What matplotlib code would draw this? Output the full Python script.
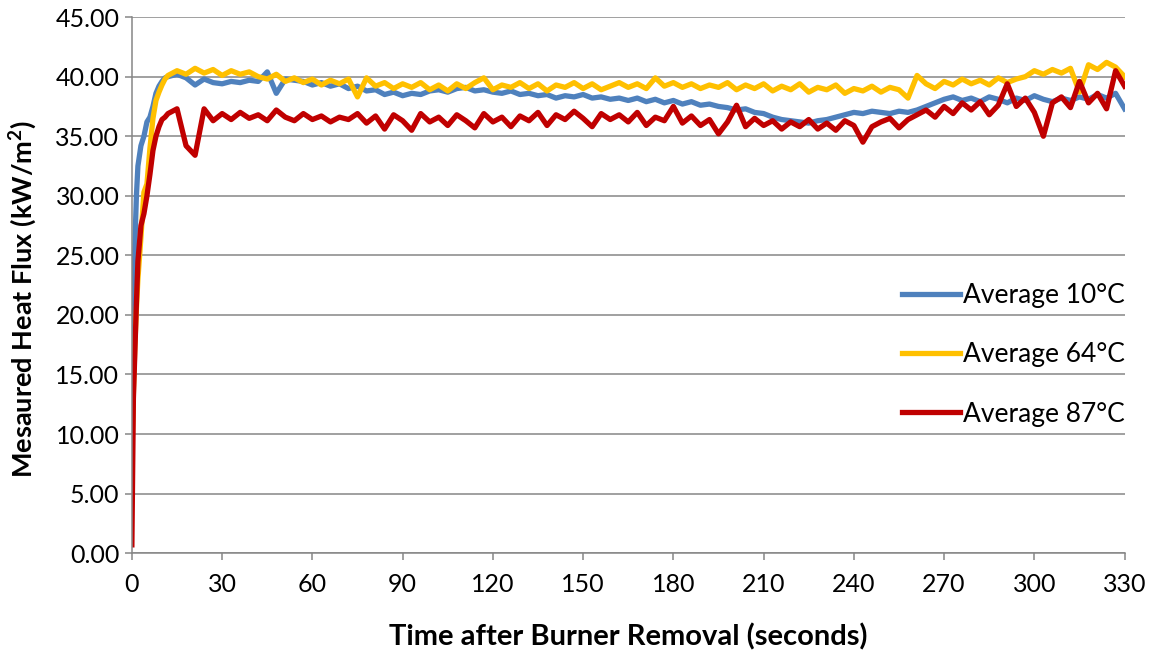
import numpy as np
import matplotlib.pyplot as plt
from matplotlib.ticker import FormatStrFormatter

# Tempo (s): amostragem fina no início, depois a cada 3 s
tempo = [0, 0.5, 1, 1.5, 2, 3, 4, 5, 6, 7, 8, 9, 10, 11] + list(range(12, 331, 3))

# Fluxo de calor medido (kW/m2)
media_10 = [14.0, 20.5, 26.0, 30.0, 32.5, 34.2, 35.0, 36.2, 36.6, 37.5, 38.6, 39.2, 39.6, 39.9,
            40.0, 40.2, 39.9, 39.3, 39.8, 39.5, 39.4, 39.6, 39.5, 39.7,
            39.6, 40.4, 38.6, 39.8, 39.7, 39.6, 39.3, 39.5, 39.2, 39.4,
            39.0, 39.2, 38.8, 38.9, 38.5, 38.7, 38.4, 38.6, 38.5, 38.8,
            38.9, 38.7, 39.0, 39.1, 38.8, 38.9, 38.7, 38.6, 38.8, 38.5,
            38.6, 38.4, 38.5, 38.2, 38.4, 38.3, 38.5, 38.2, 38.3, 38.1,
            38.2, 38.0, 38.2, 37.9, 38.1, 37.8, 38.0, 37.7, 37.9, 37.6,
            37.7, 37.5, 37.4, 37.2, 37.3, 37.0, 36.9, 36.6, 36.4, 36.3,
            36.2, 36.1, 36.3, 36.4, 36.6, 36.8, 37.0, 36.9, 37.1, 37.0,
            36.9, 37.1, 37.0, 37.2, 37.5, 37.8, 38.1, 38.3, 38.0, 38.2,
            37.9, 38.3, 38.1, 37.8, 38.2, 38.0, 38.4, 38.1, 37.9, 38.2,
            38.0, 38.3, 38.1, 38.5, 38.2, 38.6, 37.3]

media_64 = [8.0, 13.5, 17.5, 20.5, 23.0, 26.5, 30.3, 31.0, 34.0, 36.5, 38.0, 38.7, 39.3, 39.8,
            40.1, 40.5, 40.2, 40.7, 40.3, 40.6, 40.1, 40.5, 40.2, 40.4,
            40.0, 39.8, 40.2, 39.6, 39.9, 39.5, 39.8, 39.3, 39.7, 39.4,
            39.8, 38.3, 39.9, 39.2, 39.5, 39.0, 39.4, 39.1, 39.5, 38.9,
            39.3, 38.8, 39.4, 39.0, 39.5, 39.9, 38.9, 39.3, 39.1, 39.5,
            39.0, 39.4, 38.8, 39.3, 39.1, 39.5, 39.0, 39.4, 38.9, 39.2,
            39.5, 39.1, 39.4, 39.0, 39.9, 39.2, 39.5, 39.1, 39.4, 39.0,
            39.3, 39.1, 39.5, 38.9, 39.3, 39.0, 39.4, 38.8, 39.2, 38.9,
            39.4, 38.7, 39.1, 38.9, 39.3, 38.6, 39.0, 38.8, 39.2, 38.7,
            39.1, 38.9, 38.2, 40.1, 39.4, 39.0, 39.6, 39.3, 39.8, 39.4,
            39.7, 39.3, 39.9, 39.5, 39.8, 40.0, 40.5, 40.2, 40.6, 40.3,
            40.7, 38.7, 41.0, 40.6, 41.2, 40.8, 40.0]

media_87 = [0.7, 13.0, 17.0, 21.0, 24.5, 27.5, 28.5, 30.0, 31.8, 33.8, 35.0, 35.8, 36.4, 36.6,
            36.9, 37.3, 34.2, 33.4, 37.3, 36.3, 36.9, 36.4, 37.0, 36.5,
            36.8, 36.3, 37.2, 36.6, 36.3, 36.9, 36.4, 36.7, 36.2, 36.6,
            36.4, 36.9, 36.1, 36.7, 35.6, 36.8, 36.3, 35.5, 36.9, 36.2,
            36.6, 35.9, 36.8, 36.3, 35.7, 36.9, 36.2, 36.6, 35.8, 36.7,
            36.3, 37.0, 35.9, 36.8, 36.4, 37.1, 36.5, 35.8, 36.9, 36.4,
            36.8, 36.2, 37.0, 35.9, 36.6, 36.3, 37.5, 36.1, 36.7, 35.9,
            36.4, 35.2, 36.2, 37.6, 35.8, 36.5, 35.9, 36.3, 35.6, 36.2,
            35.8, 36.4, 35.6, 36.1, 35.5, 36.3, 35.9, 34.5, 35.8, 36.2,
            36.5, 35.7, 36.4, 36.8, 37.2, 36.6, 37.5, 36.9, 37.8, 37.2,
            37.9, 36.8, 37.6, 39.4, 37.5, 38.2, 37.0, 35.0, 37.8, 38.3,
            37.4, 39.6, 37.8, 38.6, 37.3, 40.5, 39.2]

series = [('Average 10°C', media_10, '#4F81BD'),
          ('Average 64°C', media_64, '#FFC000'),
          ('Average 87°C', media_87, '#C00000')]

fonte = ['Lato', 'DejaVu Sans']
cinza = '#868686'

fig = plt.figure(figsize=(11.57, 6.57), dpi=100)
ax = fig.add_axes([0.114, 0.158, 0.858, 0.816])

for nome, valores, cor in series:
    ax.plot(tempo, valores, color=cor, linewidth=3.8, label=nome, solid_joinstyle='round')

ax.set_xlim(0, 330)
ax.set_ylim(0, 45)
ax.set_xticks(np.arange(0, 331, 30))
ax.set_yticks(np.arange(0, 46, 5))
ax.yaxis.set_major_formatter(FormatStrFormatter('%.2f'))

ax.grid(axis='y', color=cinza, linewidth=1.1)
ax.set_axisbelow(True)
for lado in ['top', 'right']:
    ax.spines[lado].set_visible(False)
for lado in ['left', 'bottom']:
    ax.spines[lado].set_color(cinza)
    ax.spines[lado].set_linewidth(1.1)

ax.tick_params(axis='both', direction='out', length=5, width=1.1, color=cinza)
ax.tick_params(axis='y', pad=4)
ax.tick_params(axis='x', pad=9)
for rotulo in ax.get_yticklabels() + ax.get_xticklabels():
    rotulo.set_fontfamily(fonte)
    rotulo.set_fontsize(18)

ax.set_xlabel('Time after Burner Removal (seconds)', fontsize=21, fontweight='bold',
              family=fonte)
ax.set_ylabel('Mesaured Heat Flux (kW/m$^\\mathregular{2}$)', fontsize=19.5, fontweight='bold',
              family=fonte)
ax.xaxis.set_label_coords(0.5, -0.13)
ax.yaxis.set_label_coords(-0.094, 0.474)

ax.legend(loc='center left', bbox_to_anchor=(902 / 1157, 0.46), bbox_transform=fig.transFigure,
          frameon=False, borderpad=0, borderaxespad=0, handlelength=2.2, handletextpad=0.1,
          labelspacing=1.3, prop={'family': fonte, 'size': 19})

plt.savefig('out.png', dpi=100)
